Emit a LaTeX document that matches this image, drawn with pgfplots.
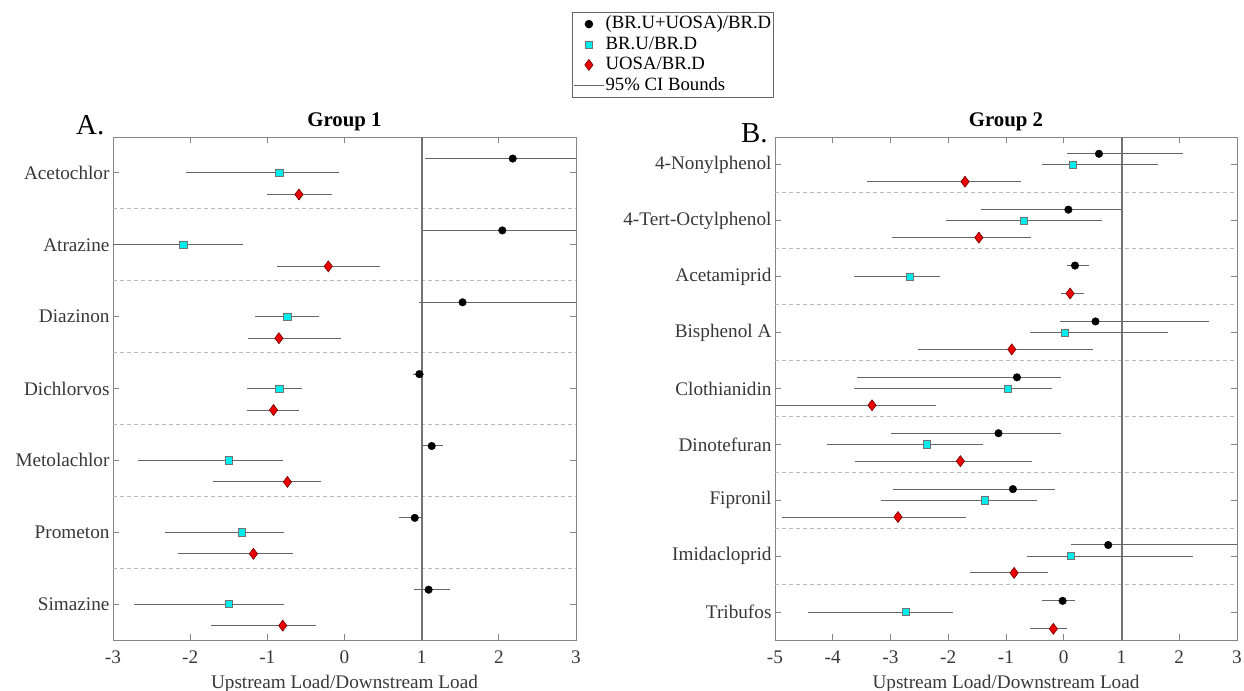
\documentclass[border=0pt]{standalone}
\usepackage{fontspec}
\setmainfont{Liberation Serif}
\usepackage{pgfplots}
\usepackage{pgfplotstable}
\pgfplotsset{compat=1.18}

% k  v  lo  hi
\pgfplotstableread{
k v lo hi
1 2.18 1.04 3.5
2 2.045 1.02 3.5
3 1.53 0.965 3.5
4 0.97 0.89 1.03
5 1.13 1.0 1.27
6 0.91 0.71 1.02
7 1.09 0.90 1.37
}\LA
\pgfplotstableread{
k v lo hi
1 -0.845 -2.06 -0.07
2 -2.09 -3.5 -1.32
3 -0.74 -1.16 -0.33
4 -0.845 -1.26 -0.555
5 -1.50 -2.67 -0.80
6 -1.33 -2.32 -0.78
7 -1.50 -2.73 -0.79
}\LB
\pgfplotstableread{
k v lo hi
1 -0.59 -1.0 -0.16
2 -0.21 -0.88 0.46
3 -0.85 -1.25 -0.04
4 -0.92 -1.26 -0.59
5 -0.74 -1.71 -0.30
6 -1.18 -2.16 -0.67
7 -0.80 -1.73 -0.37
}\LC
\pgfplotstableread{
k v lo hi
1 0.61 0.06 2.07
2 0.08 -1.43 1.0
3 0.195 0.06 0.44
4 0.55 -0.06 2.52
5 -0.81 -3.58 -0.05
6 -1.13 -2.99 -0.04
7 -0.88 -2.96 -0.16
8 0.77 0.12 3.5
9 -0.02 -0.38 0.2
}\RA
\pgfplotstableread{
k v lo hi
1 0.16 -0.37 1.64
2 -0.69 -2.04 0.66
3 -2.67 -3.64 -2.15
4 0.02 -0.58 1.81
5 -0.97 -3.63 -0.20
6 -2.37 -4.10 -1.40
7 -1.37 -3.16 -0.47
8 0.12 -0.63 2.24
9 -2.74 -4.43 -1.92
}\RB
\pgfplotstableread{
k v lo hi
1 -1.71 -3.40 -0.74
2 -1.47 -2.97 -0.56
3 0.11 -0.04 0.35
4 -0.90 -2.53 0.51
5 -3.32 -5.5 -2.21
6 -1.79 -3.61 -0.55
7 -2.87 -4.88 -1.70
8 -0.86 -1.62 -0.28
9 -0.18 -0.58 0.05
}\RC

\definecolor{cicol}{gray}{0.4}
\definecolor{axcol}{gray}{0.52}
\definecolor{vcol}{gray}{0.45}
\definecolor{sepcol}{gray}{0.72}
\definecolor{txtcol}{gray}{0.22}
\definecolor{mcyan}{RGB}{0,235,235}
\definecolor{mred}{RGB}{235,0,0}
\definecolor{mredge}{RGB}{110,0,0}

\pgfplotsset{
  myax/.style={
    scale only axis, height=503bp, y dir=reverse,
    axis line style={axcol, line width=1bp},
    tick style={axcol, line width=1bp},
    major tick length=6bp,
    tick align=inside,
    ticklabel style={font=\fontsize{19.3}{22}\selectfont, text=txtcol},
    xticklabel style={yshift=-7bp},
    label style={font=\fontsize{19.3}{22}\selectfont, text=txtcol},
    xlabel style={yshift=-4.5bp},
    title style={font=\bfseries\fontsize{20.9}{24}\selectfont, at={(0.5,1)}, anchor=base, yshift=5bp},
    xlabel={Upstream Load/Downstream Load},
    extra y tick labels={},
    extra y tick style={grid=major, major tick length=0pt,
      major grid style={sepcol, line width=0.8bp, dash pattern=on 4bp off 3bp}},
    legend image code/.code={\draw[mark repeat=2,mark phase=2] plot coordinates {(0bp,0bp) (15bp,0bp) (30bp,0bp)};},
  },
  cibar/.style={only marks, mark=none, forget plot,
    error bars/.cd, x dir=both, x explicit, error mark=none,
    error bar style={draw=cicol, line width=1bp}},
  mA/.style={only marks, mark=*, mark size=3.8bp, mark options={fill=black, draw=black}},
  mB/.style={only marks, mark=square*, mark size=3.6bp, mark options={fill=mcyan, draw=black!55, line width=0.6bp}},
  mC/.style={only marks, mark=diamond*, mark size=5.5bp, mark options={fill=mred, draw=mredge, line width=0.6bp}},
}

\begin{document}
\begin{tikzpicture}
\useasboundingbox (0,0) rectangle (1244bp,691bp);

\begin{axis}[myax, at={(113bp,51bp)}, anchor=south west, width=463bp,
  xmin=-3, xmax=3, xtick={-3,...,3}, xticklabels={-3,-2,-1,0,1,2,3},
  ymin=0.5, ymax=7.5, ytick={1,...,7},
  yticklabels={Acetochlor,Atrazine,Diazinon,Dichlorvos,Metolachlor,Prometon,Simazine},
  extra y ticks={1.5,2.5,3.5,4.5,5.5,6.5},
  title={Group 1},
  legend style={at={(0.9914,1.2485)}, anchor=north west, draw=black!60, line width=0.8bp,
    font=\fontsize{18.8}{20}\selectfont, inner xsep=1bp, inner ysep=1.5bp,
    nodes={inner sep=1.2bp, text height=13.8bp, text depth=4.2bp}, cells={anchor=west},
    /tikz/every even column/.append style={column sep=0bp}},
]
\addplot[vcol, line width=2bp, forget plot] coordinates {(1,0.5) (1,7.5)};
\addplot[cibar] table[x=v, y expr=\thisrow{k}-0.2, x error plus expr=\thisrow{hi}-\thisrow{v}, x error minus expr=\thisrow{v}-\thisrow{lo}] {\LA};
\addplot[cibar] table[x=v, y=k, x error plus expr=\thisrow{hi}-\thisrow{v}, x error minus expr=\thisrow{v}-\thisrow{lo}] {\LB};
\addplot[cibar] table[x=v, y expr=\thisrow{k}+0.3, x error plus expr=\thisrow{hi}-\thisrow{v}, x error minus expr=\thisrow{v}-\thisrow{lo}] {\LC};
\addplot[mA] table[x=v, y expr=\thisrow{k}-0.2] {\LA};
\addlegendentry{(BR.U+UOSA)/BR.D}
\addplot[mB] table[x=v, y=k] {\LB};
\addlegendentry{BR.U/BR.D}
\addplot[mC] table[x=v, y expr=\thisrow{k}+0.3] {\LC};
\addlegendentry{UOSA/BR.D}
\addlegendimage{cicol, line width=1bp, mark=none}
\addlegendentry{95\% CI Bounds}
\end{axis}

\begin{axis}[myax, at={(775bp,51bp)}, anchor=south west, width=462bp,
  xmin=-5, xmax=3, xtick={-5,...,3}, xticklabels={-5,-4,-3,-2,-1,0,1,2,3},
  ymin=0.5, ymax=9.5, ytick={1,...,9},
  yticklabels={4-Nonylphenol,4-Tert-Octylphenol,Acetamiprid,Bisphenol A,Clothianidin,Dinotefuran,Fipronil,Imidacloprid,Tribufos},
  extra y ticks={1.5,2.5,3.5,4.5,5.5,6.5,7.5,8.5},
  title={Group 2},
]
\addplot[vcol, line width=2bp, forget plot] coordinates {(1,0.5) (1,9.5)};
\addplot[cibar] table[x=v, y expr=\thisrow{k}-0.2, x error plus expr=\thisrow{hi}-\thisrow{v}, x error minus expr=\thisrow{v}-\thisrow{lo}] {\RA};
\addplot[cibar] table[x=v, y=k, x error plus expr=\thisrow{hi}-\thisrow{v}, x error minus expr=\thisrow{v}-\thisrow{lo}] {\RB};
\addplot[cibar] table[x=v, y expr=\thisrow{k}+0.3, x error plus expr=\thisrow{hi}-\thisrow{v}, x error minus expr=\thisrow{v}-\thisrow{lo}] {\RC};
\addplot[mA] table[x=v, y expr=\thisrow{k}-0.2] {\RA};
\addplot[mB] table[x=v, y=k] {\RB};
\addplot[mC] table[x=v, y expr=\thisrow{k}+0.3] {\RC};
\end{axis}

\node[anchor=base west, inner sep=0pt, font=\fontsize{29}{32}\selectfont] at (76bp,556bp) {A.};
\node[anchor=base west, inner sep=0pt, font=\fontsize{29}{32}\selectfont] at (741bp,548.7bp) {B.};
\end{tikzpicture}
\end{document}
